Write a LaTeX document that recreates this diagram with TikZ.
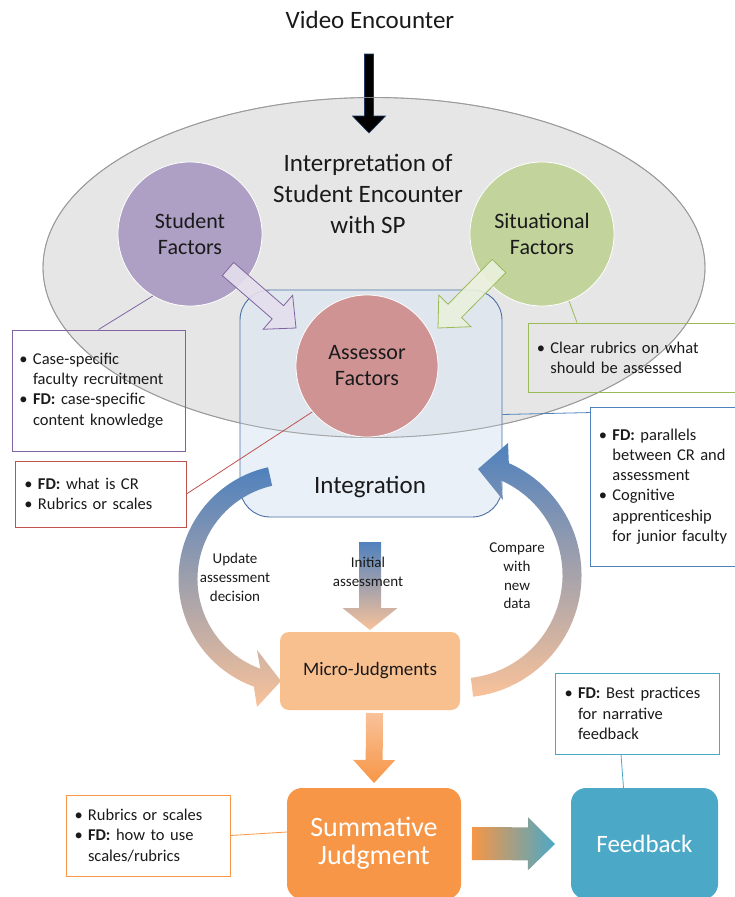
\documentclass[tikz,border=0pt]{standalone}
\usepackage{fontspec}
\setmainfont{Carlito}
\usetikzlibrary{shapes.geometric,calc}
\hyphenpenalty=10000
\exhyphenpenalty=10000

\definecolor{txt}{HTML}{1A1A1A}
\definecolor{ellfill}{HTML}{E6E6E6}
\definecolor{elldraw}{HTML}{9A9A9A}
\definecolor{studfill}{HTML}{AE9FC4}
\definecolor{situfill}{HTML}{C2D39C}
\definecolor{assefill}{HTML}{CF9393}
\definecolor{intfill}{HTML}{DCE6F2}
\definecolor{intdraw}{HTML}{4A6FA5}
\definecolor{purp}{HTML}{8064A2}
\definecolor{purpl}{HTML}{E5DFEC}
\definecolor{grn}{HTML}{9BBB59}
\definecolor{grnl}{HTML}{EBF1DE}
\definecolor{redline}{HTML}{C0504D}
\definecolor{blueline}{HTML}{4F81BD}
\definecolor{orng}{HTML}{F79646}
\definecolor{fbteal}{HTML}{4BA8C6}
\definecolor{peach}{HTML}{F8C29A}
\definecolor{microfill}{HTML}{F9C08F}
\definecolor{navy}{HTML}{1F3864}

% bullet and hanging indent for the note boxes
\newcommand{\bul}{\makebox[11pt][l]{\hspace{-2.5pt}\textbullet}}
\newcommand{\ind}{\hspace*{11pt}}

% straight block arrow: style, tail, tip, shaft half width, head half width, head length
\newcommand{\blockarrow}[6]{%
  \coordinate (ba-hb) at ($(#3)!#6!(#2)$);
  \path[#1] ($(#2)!#4!90:(#3)$) -- ($(ba-hb)!#4!90:(#3)$) -- ($(ba-hb)!#5!90:(#3)$)
    -- (#3) -- ($(ba-hb)!#5!-90:(#3)$) -- ($(ba-hb)!#4!-90:(#3)$)
    -- ($(#2)!#4!-90:(#3)$) -- cycle;}

\begin{document}
\begin{tikzpicture}[x=1pt,y=1pt,
  every node/.style={text=txt},
  factor/.style={circle, minimum size=144pt, inner sep=0pt, draw=white,
    line width=0.8pt, align=center, font=\fontsize{22}{26}\selectfont},
  notebox/.style={draw=#1, line width=0.9pt, inner ysep=0pt, align=left,
    font=\fontsize{16.5}{20.3}\selectfont},
  linkline/.style={draw=#1, line width=0.8pt},
  roundbox/.style={rounded corners=#1, inner sep=0pt, align=center},
  cuetext/.style={align=center, font=\fontsize{15}{19}\selectfont},
]
\useasboundingbox (0,0) rectangle (735,-897);

% title and incoming arrow
\node[font=\fontsize{25}{30}\selectfont] (video) at (370,-20) {Video Encounter};
\coordinate (vtail) at (369,-54);
\coordinate (vtip) at (369,-133);

% interpretation ellipse
\node[ellipse, minimum width=662pt, minimum height=340pt, inner sep=0pt,
  fill=ellfill, draw=elldraw, line width=0.9pt] (interp) at (374,-267.5) {};

\blockarrow{fill=black, draw=navy, line width=0.6pt}{vtail}{vtip}{4.5pt}{16.5pt}{17pt}

% student and situational factors
\node[factor, fill=studfill] (stud) at (190,-234) {Student\\Factors};
\node[factor, fill=situfill] (situ) at (542,-234) {Situational\\Factors};

% integration box, seen through
\node[roundbox=30pt, minimum width=262pt, minimum height=227pt,
  fill=intfill, fill opacity=0.6, draw=intdraw, draw opacity=1, line width=0.9pt]
  (integ) at (371,-403.5) {};
\node[font=\fontsize{25}{30}\selectfont] (integtext) at (370,-487) {Integration};

% ellipse rim kept visible over the box
\draw[elldraw, line width=0.8pt, draw opacity=0.8] (interp.center) ellipse[x radius=331, y radius=170];

\node[factor, fill=assefill, minimum size=142pt] (asse) at (367,-366) {Assessor\\Factors};

\node[align=center, font=\fontsize{25}{31}\selectfont] (interptext) at (368,-194)
  {Interpretation of\\Student Encounter\\with SP};

% block arrows into the assessor
\coordinate (ptail) at (228,-269);
\coordinate (ptip) at (296,-328);
\coordinate (gtail) at (499,-266);
\coordinate (gtip) at (438,-328);
\blockarrow{fill=purpl, fill opacity=0.9, draw=purp, draw opacity=1, line width=0.8pt}{ptail}{ptip}{8.7pt}{22.5pt}{24pt}
\blockarrow{fill=grnl, fill opacity=0.9, draw=grn, draw opacity=1, line width=0.8pt}{gtail}{gtip}{9.5pt}{22.5pt}{24pt}

% feedback loop arcs
\coordinate (Lc) at (293,-579);
\shade[top color=blueline, bottom color=peach]
  ($(Lc)+(102.6:114.5)$) arc[start angle=102.6, end angle=250, radius=114.5]
  -- (257,-707) -- (281,-681) -- (257,-650)
  -- ($(Lc)+(250:95.5)$) arc[start angle=250, end angle=102.6, radius=95.5] -- cycle;
\coordinate (Rc) at (459,-575);
\shade[top color=blueline, bottom color=peach]
  ($(Rc)+(-83.4:122.5)$) arc[start angle=-83.4, end angle=66, radius=122.5]
  -- (508,-443) -- (478,-469) -- (503,-500)
  -- ($(Rc)+(66:103.5)$) arc[start angle=66, end angle=-83.4, radius=103.5] -- cycle;

% initial assessment arrow
\coordinate (itail) at (370,-542);
\coordinate (itip) at (370,-630);
\blockarrow{top color=blueline, bottom color=peach}{itail}{itip}{11pt}{27.5pt}{22pt}

\node[cuetext] (update) at (235,-577) {Update\\assessment\\decision};
\node[cuetext] (initial) at (368,-572) {Initial\\assessment};
\node[cuetext, font=\fontsize{15}{18.7}\selectfont] (compare) at (517,-576) {Compare\\with\\new\\data};

% micro-judgments
\node[roundbox=9pt, minimum width=180pt, minimum height=78pt, fill=microfill,
  font=\fontsize{19}{23}\selectfont] (micro) at (370,-671) {Micro-Judgments};

\coordinate (mtail) at (374.5,-713);
\coordinate (mtip) at (374,-783);
\blockarrow{top color=peach, bottom color=orng}{mtail}{mtip}{8.5pt}{21pt}{23pt}

% summative judgment and feedback
\node[roundbox=15pt, minimum width=174pt, minimum height=111pt, fill=orng,
  text=white, font=\fontsize{28}{29}\selectfont] (summ) at (374,-843.5) {Summative\\[-1pt]Judgment};
\node[roundbox=15pt, minimum width=147pt, minimum height=111pt, fill=fbteal,
  text=white, font=\fontsize{25}{30}\selectfont] (feed) at (644.5,-843.5) {Feedback};

\coordinate (stail) at (472,-843.5);
\coordinate (stip) at (555,-844);
\blockarrow{left color=orng, right color=fbteal}{stail}{stip}{16.5pt}{26.5pt}{27pt}

% note boxes
\node[notebox=purp, text width=153pt, inner xsep=10pt, minimum height=121pt] (pbox) at (98.5,-390.5)
  {\bul Case-specific\\\ind faculty recruitment\\\bul\textbf{FD:} case-specific\\\ind content knowledge};
\node[notebox=redline, text width=147pt, inner xsep=12pt, minimum height=66pt] (rbox) at (100.5,-494)
  {\bul\textbf{FD:} what is CR\\\bul Rubrics or scales};
\node[notebox=grn, text width=200pt, inner xsep=11pt, minimum height=69pt, anchor=west] (gbox) at (528,-357.5)
  {\bul Clear rubrics on what\\\ind should be assessed};
\node[notebox=blueline, text width=150pt, inner xsep=11pt, minimum height=159pt, anchor=west] (bbox) at (590,-486.5)
  {\bul\textbf{FD:} parallels\\\ind between CR and\\\ind assessment\\\bul Cognitive\\\ind apprenticeship\\\ind for junior faculty};
\node[notebox=fbteal, text width=140pt, inner xsep=12pt, minimum height=81pt] (tbox) at (637,-713.5)
  {\bul\textbf{FD:} Best practices\\\ind for narrative\\\ind feedback};
\node[notebox=orng, text width=142pt, inner xsep=11pt, minimum height=81pt] (obox) at (148,-835.5)
  {\bul Rubrics or scales\\\bul\textbf{FD:} how to use\\\ind scales/rubrics};

% connector lines from the notes
\draw[linkline=purp] (stud.239) -- (pbox.north);
\draw[linkline=redline] (rbox.east) -- (asse.220);
\draw[linkline=grn] (situ.292) -- ($(gbox.north west)+(49,0)$);
\draw[linkline=blueline] ($(integ.east)+(0,-11)$) -- ($(bbox.north west)+(0,-6)$);
\draw[linkline=orng] (obox.east) -- ($(summ.west)+(0,11.5)$);
\draw[linkline=fbteal] ($(tbox.south)+(-16,0)$) -- ($(feed.north)+(-21,0)$);
\end{tikzpicture}
\end{document}
